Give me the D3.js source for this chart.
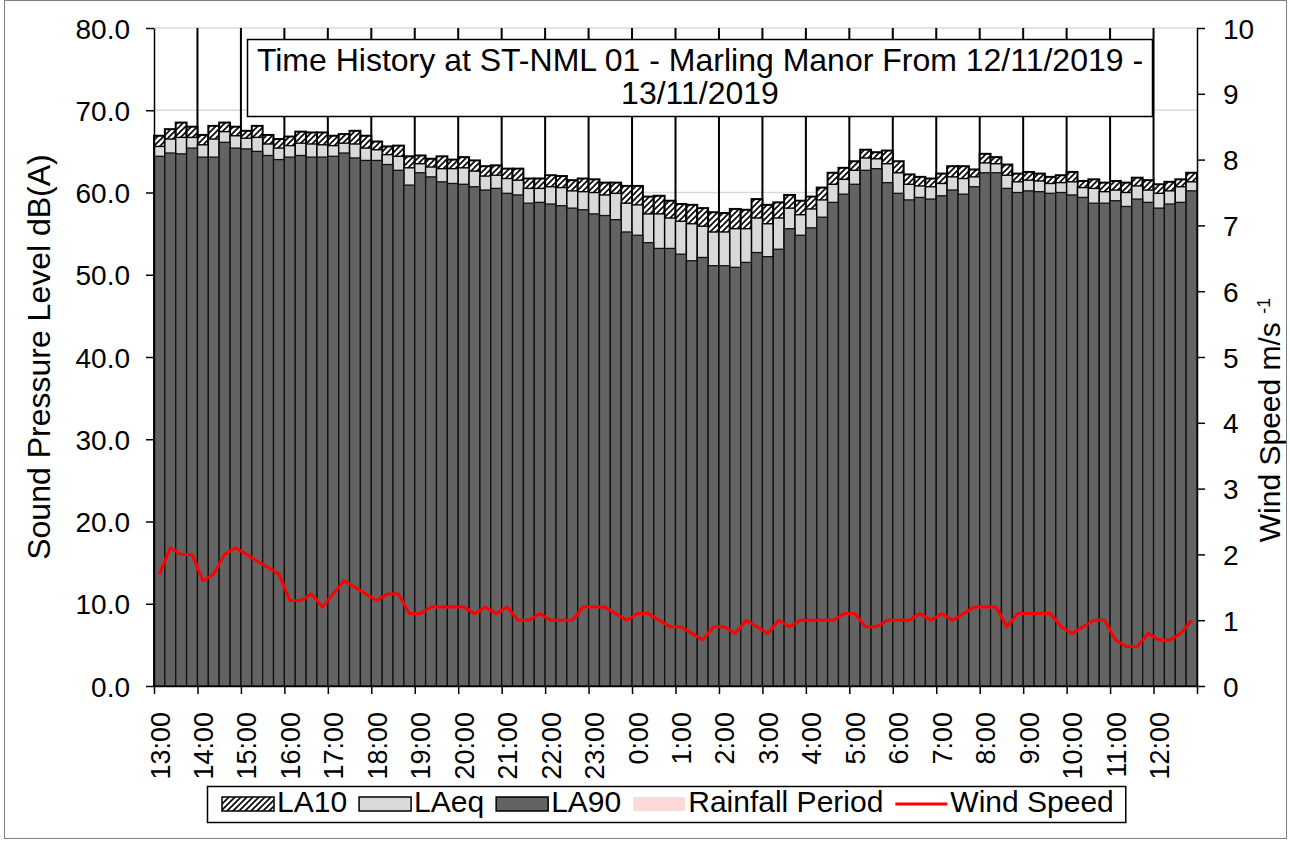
<!DOCTYPE html>
<html>
<head>
    <title>Time History ST-NML 01</title>
    <script src="https://d3js.org/d3.v7.min.js"></script>
    <style>
        body { margin: 0; background: #fff; }
        svg text { font-family: "Liberation Sans", Arial, sans-serif; fill: #000; }
        .axis path, .axis line { stroke: #000; stroke-width: 1.5px; }
    </style>
</head>
<body>
<div id="chart"></div>
<script>
// 15-minute intervals, 12/11/2019 13:00 -> 13/11/2019 12:45
const times = [
    "13:00","13:15","13:30","13:45","14:00","14:15","14:30","14:45",
    "15:00","15:15","15:30","15:45","16:00","16:15","16:30","16:45",
    "17:00","17:15","17:30","17:45","18:00","18:15","18:30","18:45",
    "19:00","19:15","19:30","19:45","20:00","20:15","20:30","20:45",
    "21:00","21:15","21:30","21:45","22:00","22:15","22:30","22:45",
    "23:00","23:15","23:30","23:45","0:00","0:15","0:30","0:45",
    "1:00","1:15","1:30","1:45","2:00","2:15","2:30","2:45",
    "3:00","3:15","3:30","3:45","4:00","4:15","4:30","4:45",
    "5:00","5:15","5:30","5:45","6:00","6:15","6:30","6:45",
    "7:00","7:15","7:30","7:45","8:00","8:15","8:30","8:45",
    "9:00","9:15","9:30","9:45","10:00","10:15","10:30","10:45",
    "11:00","11:15","11:30","11:45","12:00","12:15","12:30","12:45"
];

const la10 = [
    66.9, 67.7, 68.5, 68.0, 67.0, 68.1, 68.5, 68.0, 67.5, 68.1, 67.0, 66.5,
    66.8, 67.4, 67.3, 67.3, 66.9, 67.1, 67.5, 66.9, 66.2, 65.6, 65.7, 64.4,
    64.5, 64.1, 64.4, 64.0, 64.3, 63.9, 63.2, 63.3, 62.9, 62.9, 61.7, 61.7,
    62.1, 62.0, 61.5, 61.7, 61.6, 61.2, 61.2, 60.8, 60.8, 59.5, 59.6, 59.0,
    58.6, 58.5, 58.1, 57.6, 57.5, 58.0, 57.9, 59.2, 58.5, 58.8, 59.7, 59.0,
    59.5, 60.6, 62.4, 63.0, 63.8, 65.2, 64.9, 65.1, 63.8, 62.2, 61.9, 61.7,
    62.3, 63.2, 63.2, 62.8, 64.7, 64.3, 63.4, 62.3, 62.5, 62.3, 61.9, 62.1,
    62.5, 61.4, 61.6, 61.2, 61.4, 61.2, 61.8, 61.5, 61.0, 61.3, 61.6, 62.4
];

const laeq = [
    65.6, 66.5, 66.7, 66.7, 65.8, 66.5, 67.4, 66.9, 66.6, 66.7, 65.9, 65.4,
    65.7, 66.0, 65.9, 65.8, 65.7, 66.0, 65.9, 65.4, 65.2, 64.6, 64.4, 63.0,
    63.5, 63.1, 62.9, 62.9, 63.0, 62.6, 62.0, 62.1, 61.7, 61.5, 60.5, 60.5,
    60.7, 60.6, 60.2, 60.1, 60.0, 59.7, 59.9, 58.7, 58.5, 57.4, 57.4, 56.9,
    56.5, 56.2, 55.9, 55.2, 55.2, 55.6, 55.6, 56.9, 56.2, 56.9, 58.1, 57.3,
    58.0, 59.1, 61.0, 61.6, 62.7, 64.2, 64.1, 63.5, 62.4, 61.0, 60.8, 60.7,
    61.1, 61.9, 61.7, 61.9, 63.6, 63.5, 62.1, 61.3, 61.5, 61.4, 61.1, 61.2,
    61.3, 60.6, 60.5, 60.1, 60.3, 60.0, 60.8, 60.3, 59.9, 60.2, 60.7, 61.3
];

const la90 = [
    64.4, 64.8, 64.7, 65.4, 64.3, 64.3, 66.1, 65.4, 65.3, 65.0, 64.5, 64.0,
    64.3, 64.5, 64.3, 64.3, 64.4, 64.8, 64.2, 63.9, 63.9, 63.4, 62.7, 60.9,
    62.4, 61.9, 61.3, 61.1, 61.0, 60.7, 60.3, 60.5, 59.9, 59.7, 58.7, 58.8,
    58.6, 58.4, 58.1, 57.9, 57.4, 57.2, 56.7, 55.2, 54.8, 53.9, 53.2, 53.2,
    52.5, 51.7, 52.1, 51.1, 51.1, 50.9, 51.5, 52.7, 52.2, 53.1, 55.6, 54.8,
    55.7, 57.0, 58.8, 59.8, 61.0, 62.7, 62.9, 61.2, 59.9, 59.1, 59.4, 59.2,
    59.6, 60.3, 59.8, 60.7, 62.4, 62.4, 60.5, 60.0, 60.2, 60.1, 59.9, 60.0,
    59.7, 59.4, 58.7, 58.7, 59.0, 58.3, 59.2, 58.8, 58.1, 58.6, 58.8, 60.2
];

const wind = [
    1.7, 2.1, 2.0, 2.0, 1.6, 1.7, 2.0, 2.1, 2.0, 1.9, 1.8, 1.7,
    1.3, 1.3, 1.4, 1.2, 1.4, 1.6, 1.5, 1.4, 1.3, 1.4, 1.4, 1.1,
    1.1, 1.2, 1.2, 1.2, 1.2, 1.1, 1.2, 1.1, 1.2, 1.0, 1.0, 1.1,
    1.0, 1.0, 1.0, 1.2, 1.2, 1.2, 1.1, 1.0, 1.1, 1.1, 1.0, 0.9,
    0.9, 0.8, 0.7, 0.9, 0.9, 0.8, 1.0, 0.9, 0.8, 1.0, 0.9, 1.0,
    1.0, 1.0, 1.0, 1.1, 1.1, 0.9, 0.9, 1.0, 1.0, 1.0, 1.1, 1.0,
    1.1, 1.0, 1.1, 1.2, 1.2, 1.2, 0.9, 1.1, 1.1, 1.1, 1.1, 0.9,
    0.8, 0.9, 1.0, 1.0, 0.7, 0.6, 0.6, 0.8, 0.7, 0.7, 0.8, 1.0
];

const leftTicks = [0, 10, 20, 30, 40, 50, 60, 70, 80];
const rightTicks = [0, 1, 2, 3, 4, 5, 6, 7, 8, 9, 10];
const titleLines = ["Time History at ST-NML 01 - Marling Manor From 12/11/2019 -", "13/11/2019"];
const legendItems = [
    {name: "LA10", type: "hatch"},
    {name: "LAeq", type: "light"},
    {name: "LA90", type: "dark"},
    {name: "Rainfall Period", type: "rain"},
    {name: "Wind Speed", type: "line"}
];

const W = 1290, H = 843;
const plot = {left: 154, right: 1197, top: 28, bottom: 686};

const svg = d3.select("#chart").append("svg")
    .attr("width", W)
    .attr("height", H);

// hatch pattern for LA10
const defs = svg.append("defs");
const pat = defs.append("pattern")
    .attr("id", "hatch")
    .attr("patternUnits", "userSpaceOnUse")
    .attr("width", 6)
    .attr("height", 6);
pat.append("rect").attr("width", 6).attr("height", 6).attr("fill", "#fff");
pat.append("path")
    .attr("d", "M-1,1 L1,-1 M0,6 L6,0 M5,7 L7,5")
    .attr("stroke", "#000")
    .attr("stroke-width", 1.6);

// outer chart border
svg.append("rect")
    .attr("x", 4.5).attr("y", 0.5)
    .attr("width", 1282).attr("height", 838)
    .attr("fill", "#fff")
    .attr("stroke", "#7f7f7f")
    .attr("stroke-width", 1);

// scales
const x = d3.scaleBand().domain(times).range([plot.left, plot.right]).padding(0);
const xi = d3.scaleLinear().domain([0, times.length]).range([plot.left, plot.right]);
const y = d3.scaleLinear().domain([0, 80]).range([plot.bottom, plot.top]);
const yR = d3.scaleLinear().domain([0, 10]).range([plot.bottom, plot.top]);

// horizontal gridlines
svg.append("g").selectAll("line")
    .data(leftTicks.slice(1))
    .enter().append("line")
    .attr("x1", plot.left).attr("x2", plot.right)
    .attr("y1", d => y(d)).attr("y2", d => y(d))
    .attr("stroke", "#d9d9d9")
    .attr("stroke-width", 1.5);

// hourly vertical gridlines
const hourIdx = d3.range(0, times.length + 1, 4);
svg.append("g").selectAll("line")
    .data(hourIdx.slice(1, -1))
    .enter().append("line")
    .attr("x1", d => xi(d)).attr("x2", d => xi(d))
    .attr("y1", plot.top).attr("y2", plot.bottom)
    .attr("stroke", "#000")
    .attr("stroke-width", 2);

// bars: LA10 at back, LAeq, LA90 in front (all from zero)
const bw = x.bandwidth();
function drawBars(values, fill, stroke, sw) {
    svg.append("g").selectAll("rect")
        .data(values)
        .enter().append("rect")
        .attr("x", (d, i) => x(times[i]))
        .attr("width", bw)
        .attr("y", d => y(d))
        .attr("height", d => y(0) - y(d))
        .attr("fill", fill)
        .attr("stroke", stroke)
        .attr("stroke-width", sw);
}
drawBars(la10, "url(#hatch)", "#000", 2);
drawBars(laeq, "#d9d9d9", "#000", 1.4);
drawBars(la90, "#636363", "#111", 1.3);

// wind speed line
const line = d3.line()
    .x((d, i) => x(times[i]) + bw / 2)
    .y(d => yR(d));
svg.append("path")
    .datum(wind)
    .attr("d", line)
    .attr("fill", "none")
    .attr("stroke", "#ff0000")
    .attr("stroke-width", 3)
    .attr("stroke-linejoin", "round");

// left axis
const gL = svg.append("g")
    .attr("class", "axis")
    .attr("transform", `translate(${plot.left},0)`)
    .call(d3.axisLeft(y).tickValues(leftTicks).tickFormat(d3.format(".1f"))
        .tickSize(8).tickSizeOuter(0).tickPadding(16));
gL.selectAll("text").style("font-size", "28px").attr("dy", "0.36em");

// right axis
const gR = svg.append("g")
    .attr("class", "axis")
    .attr("transform", `translate(${plot.right},0)`)
    .call(d3.axisRight(yR).tickValues(rightTicks)
        .tickSize(8).tickSizeOuter(0).tickPadding(18));
gR.selectAll("text").style("font-size", "28px").attr("dy", "0.36em");

// bottom axis, ticks on the hour
const gB = svg.append("g")
    .attr("class", "axis")
    .attr("transform", `translate(0,${plot.bottom})`)
    .call(d3.axisBottom(xi).tickValues(hourIdx)
        .tickFormat(i => i < times.length ? times[i] : "")
        .tickSize(8).tickSizeOuter(0));
gB.selectAll("text")
    .style("font-size", "27px")
    .style("text-anchor", "end")
    .attr("x", 0).attr("y", 0).attr("dy", 0)
    .attr("transform", "translate(15,26) rotate(-90)");

// axis titles
svg.append("text")
    .attr("transform", "translate(50,357) rotate(-90)")
    .attr("text-anchor", "middle")
    .style("font-size", "32px")
    .text("Sound Pressure Level dB(A)");

const rt = svg.append("text")
    .attr("transform", "translate(1280,420) rotate(-90)")
    .attr("text-anchor", "middle")
    .style("font-size", "30px");
rt.append("tspan").text("Wind Speed m/s ");
rt.append("tspan").attr("baseline-shift", "super").style("font-size", "18px").text("-1");

// chart title box
svg.append("rect")
    .attr("x", 247.5).attr("y", 39.5)
    .attr("width", 905).attr("height", 77)
    .attr("fill", "#fff")
    .attr("stroke", "#000")
    .attr("stroke-width", 1.5);
titleLines.forEach((t, i) => {
    svg.append("text")
        .attr("x", 700)
        .attr("y", 71 + i * 33)
        .attr("text-anchor", "middle")
        .style("font-size", "32px")
        .text(t);
});

// legend
const lg = svg.append("g");
const legBox = lg.append("rect")
    .attr("y", 786.5).attr("height", 36)
    .attr("fill", "#fff")
    .attr("stroke", "#000")
    .attr("stroke-width", 1.5);
let lx = 222;
legendItems.forEach(item => {
    if (item.type === "line") {
        lg.append("line")
            .attr("x1", lx).attr("x2", lx + 52)
            .attr("y1", 804).attr("y2", 804)
            .attr("stroke", "#ff0000").attr("stroke-width", 3);
    } else {
        const fills = {hatch: "url(#hatch)", light: "#d9d9d9", dark: "#636363", rain: "#ffd9d9"};
        lg.append("rect")
            .attr("x", lx).attr("y", 797)
            .attr("width", 52).attr("height", 14)
            .attr("fill", fills[item.type])
            .attr("stroke", item.type === "rain" ? "none" : "#000")
            .attr("stroke-width", 1.5);
    }
    const t = lg.append("text")
        .attr("x", lx + 55)
        .attr("y", 812)
        .style("font-size", "30px")
        .text(item.name);
    lx = lx + 55 + t.node().getComputedTextLength() + 12;
});
legBox.attr("x", 207.5).attr("width", lx - 207.5);
</script>
</body>
</html>
